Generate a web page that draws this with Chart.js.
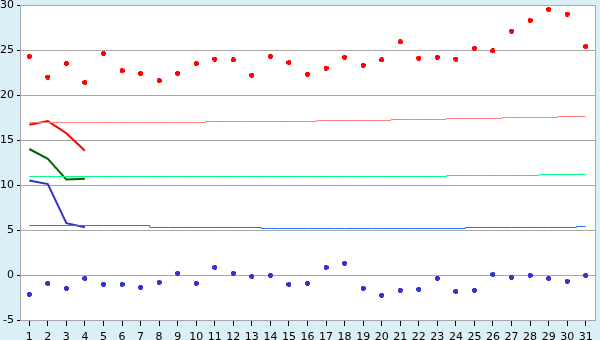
<!DOCTYPE html>
<html>
<head>
<meta charset="utf-8">
<script src="https://cdn.jsdelivr.net/npm/chart.js@4/dist/chart.umd.min.js"></script>
<style>
html,body{margin:0;padding:0;background:#DAF0F6;}
canvas{display:block;}
</style>
</head>
<body>
<canvas id="c" width="600" height="340"></canvas>
<script>
// ---- data ----
const days = ["1","2","3","4","5","6","7","8","9","10","11","12","13","14","15","16","17","18","19","20","21","22","23","24","25","26","27","28","29","30","31"];
const maxTemps = [24.3,22.0,23.5,21.4,24.6,22.7,22.4,21.6,22.4,23.5,24.0,23.9,22.2,24.3,23.6,22.3,23.0,24.2,23.3,23.9,25.9,24.1,24.2,24.0,25.2,24.9,27.1,28.3,29.5,29.0,25.4];
const minTemps = [-2.15,-0.93,-1.48,-0.37,-1.04,-1.04,-1.37,-0.81,0.19,-0.93,0.85,0.19,-0.15,-0.04,-1.04,-0.93,0.85,1.3,-1.48,-2.26,-1.7,-1.59,-0.37,-1.81,-1.7,0.07,-0.26,-0.04,-0.37,-0.7,-0.04];
const normalMax = [16.944,16.944,16.944,16.944,16.944,16.944,16.944,16.944,16.944,16.944,17.056,17.056,17.056,17.056,17.056,17.056,17.167,17.167,17.167,17.167,17.278,17.278,17.278,17.389,17.389,17.389,17.5,17.5,17.5,17.611,17.611];
const normalMean = [10.944,10.944,10.944,10.944,10.944,10.944,10.944,10.944,10.944,10.944,10.944,10.944,10.944,10.944,10.944,10.944,10.944,10.944,10.944,10.944,10.944,10.944,10.944,11.056,11.056,11.056,11.056,11.056,11.167,11.167,11.167];
const normalMin = [5.5,5.5,5.5,5.5,5.5,5.5,5.5,5.278,5.278,5.278,5.278,5.278,5.278,5.167,5.167,5.167,5.167,5.167,5.167,5.167,5.167,5.167,5.167,5.167,5.278,5.278,5.278,5.278,5.278,5.278,5.389];
const forecastMax = [16.7,17.1,15.75,13.8];
const forecastMean = [14.0,12.9,10.6,10.7];
const forecastMin = [10.5,10.1,5.75,5.3];
const yTicks = [-5,0,5,10,15,20,25,30];

function marker(color){
  const c = document.createElement('canvas');
  c.width = 5; c.height = 5;
  const g = c.getContext('2d');
  g.fillStyle = color;
  g.fillRect(1,0,3,5);
  g.fillRect(0,1,5,3);
  return c;
}

const plotBg = {
  id:'plotBg',
  beforeDraw(chart){
    const {ctx, chartArea:a} = chart;
    ctx.save();
    ctx.fillStyle = '#FFFFFF';
    ctx.fillRect(a.left, a.top, a.right - a.left, a.bottom - a.top);
    ctx.restore();
  },
  afterDatasetsDraw(chart){
    const {ctx, chartArea:a} = chart;
    ctx.save();
    ctx.strokeStyle = '#A8A8A8';
    ctx.lineWidth = 1;
    ctx.beginPath();
    ctx.moveTo(Math.round(a.right)+0.5, a.top);
    ctx.lineTo(Math.round(a.right)+0.5, a.bottom);
    ctx.stroke();
    ctx.restore();
  }
};

const font = {family:'DejaVu Sans', size:11};

new Chart(document.getElementById('c'), {
  type:'line',
  data:{
    labels: days,
    datasets:[
      {data:normalMax, borderColor:'#FF7F7F', borderWidth:1, pointRadius:0, stepped:'middle'},
      {data:normalMean, borderColor:'#00FF7F', borderWidth:1, pointRadius:0, stepped:'middle'},
      {data:normalMin, borderColor:'#1E78F0', borderWidth:1, pointRadius:0, stepped:'middle'},
      {data:forecastMax, borderColor:'#FF0000', borderWidth:2, pointRadius:0, tension:0},
      {data:forecastMean, borderColor:'#006400', borderWidth:2, pointRadius:0, tension:0},
      {data:forecastMin, borderColor:'#3333CC', borderWidth:2, pointRadius:0, tension:0},
      {data:maxTemps, showLine:false, pointStyle:marker('#FF0000'), pointRadius:3},
      {data:minTemps, showLine:false, pointStyle:marker('#3333CC'), pointRadius:3}
    ]
  },
  options:{
    responsive:false,
    animation:false,
    events:[],
    layout:{padding:{top:5,right:5,left:0,bottom:0}},
    plugins:{legend:{display:false}, tooltip:{enabled:false}},
    scales:{
      x:{
        offset:true,
        grid:{drawOnChartArea:false, drawTicks:true, tickLength:6, tickColor:'#000000', offset:false},
        border:{color:'#A8A8A8'},
        ticks:{font, color:'#000000', padding:5, maxRotation:0, autoSkip:false},
        afterFit(s){ s.height = 20; s.paddingLeft = 0; s.paddingRight = 0; }
      },
      y:{
        min:yTicks[0], max:yTicks[yTicks.length-1],
        afterBuildTicks(s){ s.ticks = yTicks.map(v=>({value:v})); },
        grid:{color:'#A8A8A8', tickColor:'#000000', tickLength:3},
        border:{color:'#A8A8A8'},
        ticks:{font, color:'#000000', padding:3},
        afterFit(s){ s.width = 20; s.paddingTop = 0; s.paddingBottom = 0; }
      }
    }
  },
  plugins:[plotBg]
});
</script>
</body>
</html>
